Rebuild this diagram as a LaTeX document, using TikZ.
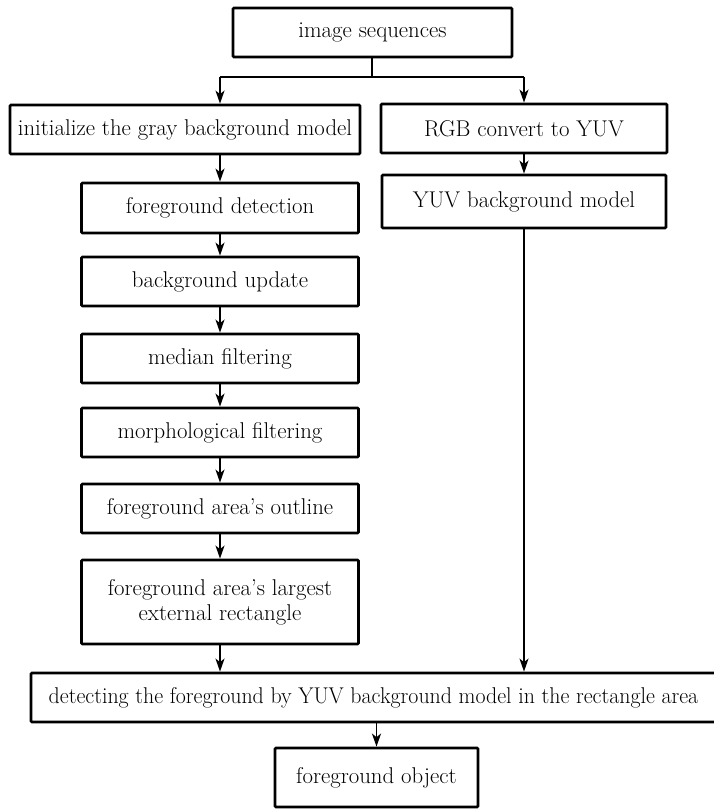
\documentclass[tikz,border=0pt]{standalone}
\usepackage{fontspec}
\setmainfont{Latin Modern Roman}
\usetikzlibrary{arrows.meta}
\begin{document}
\begin{tikzpicture}[x=1pt,y=-1pt,
  box/.style={draw,line width=2.8pt,rounded corners=1pt,inner sep=0pt,align=center,font=\fontsize{22.8}{25}\selectfont},
  conn/.style={line width=1.8pt,-{Stealth[length=13pt,width=9pt,inset=3.5pt]}},
  plain/.style={line width=1.8pt}]
\useasboundingbox (0,0) rectangle (714,809);
\node[box,minimum width=279pt,minimum height=49pt] (seq) at (372.5,32.5) {image sequences};
\node[box,minimum width=350pt,minimum height=49pt] (init) at (185,129.5) {initialize the gray background model};
\node[box,minimum width=286pt,minimum height=49pt] (rgb) at (524,128.5) {RGB convert to YUV};
\node[box,minimum width=277pt,minimum height=50pt] (fd) at (220,208) {foreground detection};
\node[box,minimum width=284pt,minimum height=53pt] (yuv) at (524,201.5) {YUV background model};
\node[box,minimum width=277pt,minimum height=49pt] (bu) at (220,281.5) {background update};
\node[box,minimum width=277pt,minimum height=49pt] (mf) at (220,358.5) {median filtering};
\node[box,minimum width=277pt,minimum height=49pt] (mo) at (220,432.5) {morphological filtering};
\node[box,minimum width=277pt,minimum height=49pt] (ol) at (220,508.5) {foreground area’s outline};
\node[box,minimum width=277pt,minimum height=84pt] (re) at (220,602) {foreground area’s largest\\external rectangle};
\node[box,minimum width=690pt,minimum height=49pt] (det) at (376,697.5) {\hspace*{-5pt}\scalebox{0.96}[1]{detecting the foreground by YUV background model in the rectangle area}};
\node[box,minimum width=203pt,minimum height=59pt] (fo) at (376.5,777.5) {foreground object};
\coordinate (split) at (372,77);
\coordinate (sl) at (220,77);
\coordinate (sr) at (524,77);
\draw[plain] (seq.south -| split) -- (split);
\draw[plain] (sl) -- (sr);
\draw[conn] (sl) -- (sl |- init.north);
\draw[conn] (sr) -- (rgb.north);
\draw[conn] (sl |- init.south) -- (fd.north);
\draw[conn] (rgb.south) -- (yuv.north);
\draw[conn] (fd) -- (bu);
\draw[conn] (bu) -- (mf);
\draw[conn] (mf) -- (mo);
\draw[conn] (mo) -- (ol);
\draw[conn] (ol) -- (re);
\draw[conn] (re.south) -- (re.south |- det.north);
\draw[conn] (yuv.south) -- (yuv.south |- det.north);
\draw[conn] (det.south -| fo.north) -- (fo.north);
\end{tikzpicture}
\end{document}
